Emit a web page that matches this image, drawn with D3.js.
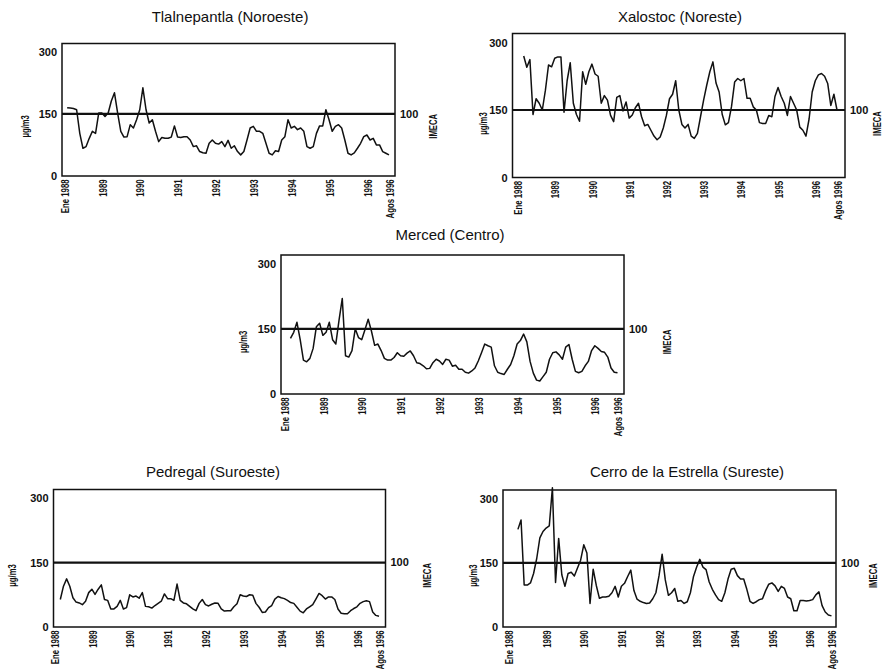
<!DOCTYPE html>
<html>
<head>
<meta charset="utf-8">
<script src="https://cdn.jsdelivr.net/npm/d3@7"></script>
<style>
body { margin: 0; background: #fff; }
svg { display: block; }
text { font-family: "Liberation Sans", Arial, sans-serif; fill: #111; }
</style>
</head>
<body>
<svg id="main" width="885" height="669"></svg>
<script>
// monthly values (ug/m3), month 0 = Ene 1988, month 103 = Agos 1996
var tlalStart = 1;
var tlalnepantla = [165,164,163,160,103,67,71,91,108,103,152,152,144,152,181,201,152,108,94,95,
  124,116,136,160,213,160,128,136,108,83,93,91,91,94,121,94,93,95,95,87,
  71,73,59,56,55,79,87,79,77,83,71,86,67,73,59,51,59,87,116,120,
  108,108,103,79,55,51,61,59,87,95,136,116,120,112,116,108,71,67,71,103,
  121,121,160,136,108,120,124,116,87,55,51,56,67,79,95,99,87,91,75,75,59,55,51];

var xaloStart = 2;
var xalostoc = [270,245,262,140,175,165,150,194,250,246,265,268,268,145,215,255,165,140,125,235,
  207,235,252,230,225,165,182,172,138,124,178,182,148,168,132,139,155,165,135,115,
  118,105,92,84,90,110,138,175,185,215,150,118,110,118,92,87,98,135,172,205,
  235,257,210,190,140,117,122,158,212,220,215,220,176,176,157,150,122,120,120,138,
  135,180,200,180,165,138,180,165,150,112,105,92,130,190,215,228,231,225,209,160,185,150];

var merStart = 2;
var merced = [128,142,165,125,78,74,82,105,155,163,135,142,165,125,115,170,220,88,85,100,
  150,130,125,148,172,145,112,115,100,82,78,78,84,95,88,87,94,99,88,72,
  70,65,58,59,72,80,76,68,80,78,64,66,57,57,50,48,53,60,76,95,
  115,111,108,65,50,47,45,57,68,88,115,123,138,120,75,48,32,30,40,50,
  80,95,97,90,80,108,114,80,52,49,52,65,75,100,111,105,98,96,85,60,50,49];

var pedStart = 2;
var pedregal = [64,95,112,95,68,58,56,52,60,80,88,76,88,98,64,62,42,42,48,62,
  42,45,75,70,72,67,80,48,47,44,50,55,60,77,66,66,62,100,62,56,
  54,48,42,38,55,64,52,49,53,56,55,42,37,38,38,47,54,75,72,71,
  75,74,55,46,34,35,45,50,65,71,68,66,62,57,55,46,37,33,42,47,
  52,65,78,73,65,70,70,64,42,32,31,31,38,43,47,55,59,61,59,35,27,25];

var cerStart = 3;
var cerro = [228,250,98,98,103,125,160,208,223,231,236,325,104,207,122,95,125,128,119,138,
  156,192,173,55,135,97,67,70,70,72,80,95,70,95,102,118,133,85,65,60,
  57,55,56,66,80,120,170,110,74,80,90,60,62,55,59,80,118,140,158,140,
  134,105,88,75,64,60,80,112,135,137,120,112,112,88,60,55,59,64,66,85,
  100,103,96,83,95,90,70,66,38,38,62,62,61,62,64,75,82,50,35,28,26];

var titles = ["Tlalnepantla (Noroeste)", "Xalostoc (Noreste)", "Merced (Centro)",
  "Pedregal (Suroeste)", "Cerro de la Estrella (Sureste)"];
var xTickMonths = [0,12,24,36,48,60,72,84,96,103];
var xTickLabels = ["Ene 1988","1989","1990","1991","1992","1993","1994","1995","1996","Agos 1996"];
var yTicks = [0,150,300];
var norma = 150;      // ug/m3 = 100 IMECA
var imecaLabel = "100";

var svg = d3.select("#main");

// layout of each panel (pixels)
var panels = [
  {values: tlalnepantla, start: tlalStart, left: 62, right: 395, top: 43.5, bottom: 176, x0: 64, x1: 389, tx: 230, ty: 22, ugX: 25, imX: 433},
  {values: xalostoc, start: xaloStart, left: 512.5, right: 845, top: 33.5, bottom: 177.5, x0: 517.5, x1: 837, tx: 680, ty: 22, ugX: 483, imX: 877},
  {values: merced, start: merStart, left: 281, right: 624, top: 255, bottom: 394, x0: 284, x1: 617.5, tx: 450, ty: 240, ugX: 243, imX: 667},
  {values: pedregal, start: pedStart, left: 53.5, right: 385.5, top: 489.5, bottom: 627, x0: 54, x1: 379, tx: 213, ty: 477, ugX: 12, imX: 427},
  {values: cerro, start: cerStart, left: 503, right: 836, top: 490, bottom: 627, x0: 508.5, x1: 831.5, tx: 687, ty: 477, ugX: 473, imX: 873}
];

panels.forEach(function(p, k) {
	var g = svg.append("g");
	var x = d3.scaleLinear().domain([0, 103]).range([p.x0, p.x1]);
	var y = d3.scaleLinear().domain([0, 320]).range([p.bottom, p.top]);

	g.append("text")
		.attr("x", p.tx).attr("y", p.ty)
		.attr("text-anchor", "middle")
		.style("font-size", "15px")
		.text(titles[k]);

	g.append("rect")
		.attr("x", p.left).attr("y", p.top)
		.attr("width", p.right - p.left).attr("height", p.bottom - p.top)
		.attr("fill", "none").attr("stroke", "#111").attr("stroke-width", 1.5);

	g.append("line")
		.attr("x1", p.left).attr("x2", p.right)
		.attr("y1", y(norma)).attr("y2", y(norma))
		.attr("stroke", "#111").attr("stroke-width", 2.2);

	var pts = p.values.map(function(v, i) { return [p.start + i, v]; });
	g.append("path")
		.datum(pts)
		.attr("d", d3.line().x(function(d) { return x(d[0]); }).y(function(d) { return y(d[1]); }))
		.attr("fill", "none").attr("stroke", "#111").attr("stroke-width", 1.5)
		.attr("stroke-linejoin", "round");

	// left axis
	var ya = g.append("g")
		.attr("transform", "translate(" + p.left + ",0)")
		.call(d3.axisLeft(y).tickValues(yTicks).tickSize(0).tickPadding(5));
	ya.select(".domain").remove();
	ya.selectAll("text").style("font-size", "11px").style("font-weight", "bold")
		.style("font-family", "'Liberation Sans', Arial, sans-serif");

	// bottom axis, rotated labels
	var xa = g.append("g")
		.attr("transform", "translate(0," + p.bottom + ")")
		.call(d3.axisBottom(x).tickValues(xTickMonths).tickSize(0)
			.tickFormat(function(d, i) { return xTickLabels[i]; }));
	xa.select(".domain").remove();
	xa.selectAll("text")
		.attr("x", -5).attr("y", 0).attr("dy", "0.36em")
		.attr("text-anchor", "end")
		.attr("transform", "rotate(-90) scale(0.68,1)")
		.style("font-size", "11.5px").style("font-weight", "bold")
		.style("font-family", "'Liberation Sans', Arial, sans-serif");

	// right scale label
	g.append("text")
		.attr("x", p.right + 5).attr("y", y(norma)).attr("dy", "0.35em")
		.style("font-size", "11px").style("font-weight", "bold")
		.text(imecaLabel);

	g.append("text")
		.attr("transform", "translate(" + p.ugX + "," + y(120) + ") rotate(-90) scale(0.7,1)")
		.attr("text-anchor", "middle").attr("dy", "0.35em")
		.style("font-size", "11px").style("font-weight", "bold")
		.text("\u00b5g/m3");

	g.append("text")
		.attr("transform", "translate(" + p.imX + "," + y(120) + ") rotate(-90) scale(0.7,1)")
		.attr("text-anchor", "middle").attr("dy", "0.35em")
		.style("font-size", "11px").style("font-weight", "bold")
		.text("IMECA");
});
</script>
</body>
</html>
